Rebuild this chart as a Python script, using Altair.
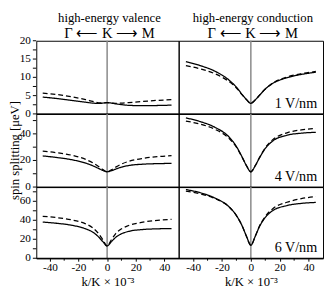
import altair as alt
import pandas as pd

FONT = "Liberation Serif"

# k/K x 10^-3 sample positions
K = [-45, -35, -25, -15, -10, -6, -3, 0, 3, 6, 10, 15, 25, 35, 45]

# high-energy valence (left column), spin splitting in ueV
val1_full = [4.6, 4.2, 3.7, 3.2, 2.95, 2.85, 2.95, 3.1, 2.95, 2.75, 2.55, 2.35, 2.25, 2.3, 2.4]
val1_appr = [5.7, 5.3, 4.7, 3.9, 3.4, 3.05, 3.0, 3.1, 2.95, 2.9, 2.95, 3.1, 3.4, 3.7, 3.9]
val4_full = [23.4, 22.2, 20.6, 18.0, 16.0, 14.0, 12.5, 11.5, 12.3, 13.5, 15.0, 16.2, 17.2, 17.6, 17.8]
val4_appr = [27.0, 25.8, 24.0, 20.8, 18.2, 15.5, 13.2, 11.5, 13.0, 15.0, 17.3, 19.3, 21.6, 22.9, 23.6]
val6_full = [38.1, 36.8, 34.8, 31.0, 27.5, 22.5, 17.5, 13.0, 17.5, 22.0, 25.8, 28.3, 30.3, 31.0, 31.3]
val6_appr = [44.2, 42.8, 40.5, 36.2, 32.0, 26.0, 19.5, 13.0, 19.5, 26.0, 31.0, 34.5, 38.0, 40.0, 40.9]

# high-energy conduction (right column)
con1_full = [14.3, 13.2, 11.7, 9.2, 7.3, 5.3, 3.9, 2.9, 3.8, 5.1, 6.8, 8.3, 9.9, 10.8, 11.4]
con1_appr = [13.2, 12.3, 11.0, 8.8, 7.1, 5.2, 3.9, 2.9, 3.8, 5.1, 6.8, 8.4, 10.1, 11.0, 11.6]
con4_full = [52.0, 49.2, 45.0, 37.5, 30.5, 22.5, 16.0, 11.5, 16.0, 22.0, 29.0, 34.5, 39.0, 40.5, 41.2]
con4_appr = [49.6, 47.3, 43.5, 36.5, 30.0, 22.3, 16.0, 11.5, 16.0, 22.2, 29.5, 35.5, 40.8, 43.0, 44.0]
con6_full = [72.4, 69.0, 63.5, 54.0, 45.0, 34.0, 23.0, 13.7, 23.0, 33.5, 43.0, 50.0, 55.5, 57.8, 58.8]
con6_appr = [70.7, 67.8, 63.0, 54.0, 45.0, 34.0, 23.0, 13.7, 23.0, 34.0, 44.0, 52.0, 59.0, 62.8, 64.9]

row_max = [20, 55, 75]
row_major = [[0, 5, 10, 15, 20], [0, 20, 40], [0, 20, 40, 60]]
row_minor = [[2.5, 7.5, 12.5, 17.5], [10, 30, 50], [10, 30, 50, 70]]
field_labels = ["1 V/nm", "4 V/nm", "6 V/nm"]
x_major = [-40, -20, 0, 20, 40]
x_minor = [-30, -10, 10, 30]
headers = ["high-energy valence", "high-energy conduction"]
directions = "Γ ⟵ K ⟶ M"
y_title = "spin splitting [μeV]"

LW, RW = 146, 148
row_h = [75, 75, 73]


def panel(full, appr, r, width, left, label=None, header=None):
    n = len(K)
    h = row_h[r]
    df = pd.DataFrame({"k": K + K, "s": full + appr,
                       "curve": ["full"] * n + ["approx"] * n})
    if r == 2:
        xaxis = alt.Axis(values=x_major, title="k/K × 10⁻³",
                         labelExpr="'' + datum.value",
                         tickSize=3, labelPadding=1, titlePadding=2,
                         labelFontSize=11.5, titleFontSize=13, grid=False,
                         labelFlush=False,
                         domainColor="black", tickColor="black")
    else:
        xaxis = None
    xs = alt.Scale(domain=([-49.5, 50] if left else [-50, 50]), nice=False, zero=False)
    ys = alt.Scale(domain=[0, row_max[r]], nice=False)
    x = alt.X("k:Q", scale=xs, axis=xaxis)
    y = alt.Y("s:Q", scale=ys, axis=None)
    lines = alt.Chart(df).mark_line(color="black", strokeWidth=1.3, interpolate="monotone").encode(
        x=x, y=y,
        strokeDash=alt.StrokeDash("curve:N",
                                  scale=alt.Scale(domain=["full", "approx"], range=[[1, 0], [5, 3]]),
                                  legend=None),
    )
    vrule = alt.Chart(pd.DataFrame({"k": [0]})).mark_rule(
        color="#888888", strokeWidth=1.5).encode(x=x)
    hrule = alt.Chart(pd.DataFrame({"s": [0]})).mark_rule(
        color="black", strokeWidth=1).encode(y=y)
    layers = [vrule, hrule, lines]
    if left:
        ticks = alt.Chart(pd.DataFrame({"s": row_major[r] + row_minor[r]})).mark_rule(
            color="black", strokeWidth=1).encode(y=y, x=alt.value(-3.5), x2=alt.value(0))
        labs = alt.Chart(pd.DataFrame({"s": row_major[r],
                                       "lab": [str(v) for v in row_major[r]]})).mark_text(
            align="right", baseline="middle", font=FONT, fontSize=11.5, color="black"
        ).encode(y=y, x=alt.value(-5.5), text="lab:N")
        layers += [ticks, labs]
        if r == 1:
            yt = alt.Chart(pd.DataFrame({"t": [y_title]})).mark_text(
                align="center", baseline="middle", angle=270, font=FONT, fontSize=13,
                color="black"
            ).encode(x=alt.value(-22), y=alt.value(h / 2), text="t:N")
            layers.append(yt)
    if r == 2:
        xmin = alt.Chart(pd.DataFrame({"k": x_minor})).mark_rule(
            color="black", strokeWidth=1).encode(x=x, y=alt.value(h), y2=alt.value(h + 2.5))
        layers.append(xmin)
    if label is not None:
        txt = alt.Chart(pd.DataFrame({"t": [label]})).mark_text(
            align="right", baseline="alphabetic", font=FONT, fontSize=14.5, color="black"
        ).encode(x=alt.value(width - 6), y=alt.value(h - 6), text="t:N")
        layers.append(txt)
    if header is not None:
        t1 = alt.Chart(pd.DataFrame({"t": [header]})).mark_text(
            align="center", baseline="middle", font=FONT, fontSize=13, color="black"
        ).encode(x=alt.value(width / 2 + 2), y=alt.value(-23), text="t:N")
        t2 = alt.Chart(pd.DataFrame({"t": [directions]})).mark_text(
            align="center", baseline="middle", font=FONT, fontSize=15, color="black"
        ).encode(x=alt.value(width / 2 + 2), y=alt.value(-8), text="t:N")
        layers += [t1, t2]
    return alt.layer(*layers).properties(width=width, height=h)


panels = [
    panel(val1_full, val1_appr, 0, LW, True, header=headers[0]),
    panel(con1_full, con1_appr, 0, RW, False, label=field_labels[0], header=headers[1]),
    panel(val4_full, val4_appr, 1, LW, True),
    panel(con4_full, con4_appr, 1, RW, False, label=field_labels[1]),
    panel(val6_full, val6_appr, 2, LW, True),
    panel(con6_full, con6_appr, 2, RW, False, label=field_labels[2]),
]

chart = alt.concat(*panels, columns=2, spacing=0, bounds="flush").properties(
    padding=0
).configure_view(
    stroke="black", strokeWidth=1
).configure_axis(
    labelFont=FONT, titleFont=FONT, labelColor="black", titleColor="black",
    titleFontWeight="normal"
)

chart.save("out.html", embed_options={"renderer": "svg", "actions": False})
